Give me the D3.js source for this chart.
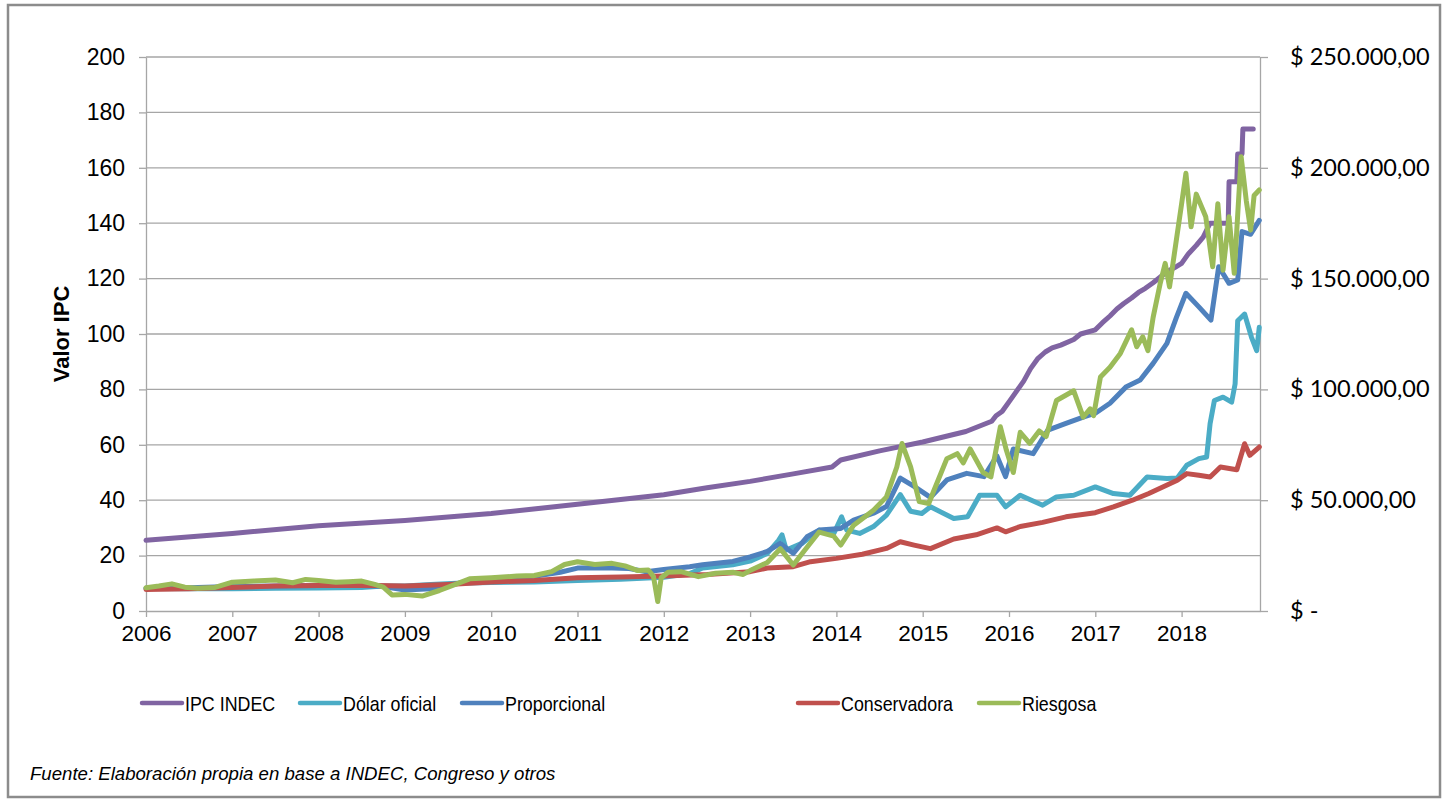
<!DOCTYPE html>
<html>
<head>
<meta charset="utf-8">
<script src="https://cdn.jsdelivr.net/npm/d3@7"></script>
<style>
  body { margin: 0; background: #fff; }
  svg { display: block; }
  .grid line { stroke: #a6a6a6; stroke-width: 1.3; }
  .axis path, .axis line { stroke: #a6a6a6; stroke-width: 1.3; }
  .axis text { fill: #000; }
</style>
</head>
<body>
<svg id="chart" width="1446" height="802"></svg>
<script>
// years on the bottom axis
let years = d3.range(2006, 2019);

// left axis ticks (Valor IPC) and right axis ticks (pesos)
let leftTicks = [0, 20, 40, 60, 80, 100, 120, 140, 160, 180, 200];
let rightTicks = [0, 50000, 100000, 150000, 200000, 250000];

// series: [decimal year, value]
let ipc = [
  [2006.0, 25.5], [2007.0, 28.0], [2008.0, 30.8], [2009.0, 32.7], [2010.0, 35.2],
  [2011.0, 38.5], [2012.0, 42.0], [2012.5, 44.5], [2013.0, 46.8], [2013.5, 49.5],
  [2013.95, 52.0], [2014.05, 54.5], [2014.5, 57.8], [2015.0, 61.0], [2015.5, 64.8],
  [2015.8, 68.5], [2015.85, 70.5], [2015.92, 72.0], [2016.0, 75.5], [2016.08, 79.0],
  [2016.17, 83.0], [2016.25, 87.5], [2016.33, 91.0], [2016.42, 93.5], [2016.5, 95.0],
  [2016.6, 96.0], [2016.75, 98.0], [2016.83, 100.0], [2017.0, 101.5], [2017.08, 104.0],
  [2017.17, 106.5], [2017.25, 109.0], [2017.33, 111.0], [2017.42, 113.0], [2017.5, 115.0],
  [2017.58, 116.5], [2017.67, 118.5], [2017.75, 120.5], [2017.83, 122.5], [2017.92, 124.0],
  [2018.0, 125.5], [2018.08, 129.0], [2018.17, 132.0], [2018.25, 135.0], [2018.33, 140.0],
  [2018.54, 140.0], [2018.55, 155.0], [2018.64, 155.0], [2018.65, 165.0], [2018.7, 165.0],
  [2018.71, 174.0], [2018.83, 174.0]
];

let dolar = [
  [2006.0, 8.1], [2006.5, 8.0], [2007.0, 8.0], [2007.5, 8.2], [2008.0, 8.3], [2008.5, 8.5],
  [2008.75, 9.0], [2009.0, 9.0], [2009.3, 9.6], [2009.6, 10.0], [2010.0, 10.3], [2010.5, 10.5],
  [2011.0, 11.0], [2011.5, 11.5], [2012.0, 12.2], [2012.3, 13.5], [2012.45, 15.5], [2012.8, 16.7],
  [2013.0, 18.0], [2013.2, 20.8], [2013.33, 25.5], [2013.37, 27.5], [2013.42, 22.0], [2013.6, 24.4],
  [2013.8, 29.2], [2013.97, 28.0], [2014.06, 34.0], [2014.12, 29.2], [2014.27, 28.0], [2014.43, 30.5],
  [2014.58, 34.6], [2014.74, 42.0], [2014.86, 36.0], [2014.99, 35.2], [2015.09, 37.6], [2015.36, 33.4],
  [2015.52, 34.0], [2015.66, 41.8], [2015.86, 41.8], [2015.96, 37.6], [2016.13, 41.8], [2016.39, 38.2],
  [2016.55, 41.2], [2016.75, 41.8], [2017.0, 44.8], [2017.21, 42.4], [2017.4, 41.8], [2017.6, 48.4],
  [2017.83, 47.8], [2017.95, 48.0], [2018.06, 52.6], [2018.2, 55.0], [2018.29, 55.6], [2018.33, 67.6],
  [2018.38, 76.0], [2018.48, 77.2], [2018.58, 75.4], [2018.62, 82.0], [2018.65, 104.8], [2018.73, 107.2],
  [2018.81, 98.8], [2018.87, 94.0], [2018.9, 102.4]
];

let proporcional = [
  [2006.0, 8.3], [2006.5, 8.4], [2007.0, 8.8], [2007.5, 9.0], [2008.0, 9.2], [2008.5, 9.2],
  [2008.75, 8.8], [2009.0, 7.6], [2009.3, 8.0], [2009.7, 10.5], [2010.0, 11.5], [2010.5, 12.5],
  [2010.8, 14.0], [2011.0, 15.5], [2011.3, 15.6], [2011.6, 15.3], [2011.8, 14.2], [2012.0, 15.0],
  [2012.3, 16.0], [2012.45, 16.7], [2012.8, 17.9], [2013.0, 19.5], [2013.2, 21.5], [2013.35, 24.4],
  [2013.5, 20.8], [2013.66, 26.8], [2013.8, 29.2], [2014.05, 29.8], [2014.2, 32.8], [2014.43, 35.3],
  [2014.58, 37.7], [2014.74, 48.0], [2014.9, 45.0], [2015.09, 41.0], [2015.28, 47.3], [2015.51, 49.7],
  [2015.71, 48.5], [2015.86, 56.0], [2015.96, 48.5], [2016.05, 58.5], [2016.28, 56.8], [2016.45, 65.3],
  [2016.66, 67.7], [2016.86, 70.0], [2017.0, 71.4], [2017.17, 75.0], [2017.36, 81.0], [2017.52, 83.4],
  [2017.67, 89.4], [2017.83, 96.6], [2017.94, 106.0], [2018.05, 114.7], [2018.2, 109.8], [2018.34, 105.0],
  [2018.43, 124.3], [2018.55, 118.3], [2018.65, 119.5], [2018.7, 137.0], [2018.8, 136.0], [2018.9, 141.0]
];

let conservadora = [
  [2006.0, 7.8], [2006.5, 8.0], [2007.0, 8.5], [2007.5, 9.0], [2008.0, 9.2], [2008.5, 9.3],
  [2009.0, 9.0], [2009.5, 9.6], [2010.0, 10.5], [2010.5, 11.0], [2011.0, 12.0], [2011.5, 12.3],
  [2012.0, 12.6], [2012.5, 13.2], [2013.0, 14.2], [2013.2, 15.5], [2013.5, 16.0], [2013.7, 17.8],
  [2014.0, 19.0], [2014.3, 20.5], [2014.58, 22.6], [2014.74, 25.0], [2014.9, 23.8], [2015.09, 22.5],
  [2015.36, 26.0], [2015.62, 27.5], [2015.86, 30.0], [2015.96, 28.6], [2016.13, 30.5], [2016.39, 32.0],
  [2016.66, 34.0], [2017.0, 35.5], [2017.21, 37.6], [2017.43, 40.0], [2017.62, 42.4], [2017.95, 47.2],
  [2018.06, 49.6], [2018.2, 49.0], [2018.33, 48.4], [2018.45, 52.0], [2018.64, 51.0], [2018.73, 60.4],
  [2018.79, 56.2], [2018.9, 59.2]
];

let riesgosa = [
  [2006.0, 8.4], [2006.15, 9.0], [2006.3, 9.8], [2006.45, 8.6], [2006.6, 8.2], [2006.8, 8.5],
  [2007.0, 10.4], [2007.25, 10.8], [2007.5, 11.2], [2007.7, 10.2], [2007.85, 11.4], [2008.0, 11.0],
  [2008.2, 10.4], [2008.35, 10.6], [2008.5, 10.8], [2008.65, 9.6], [2008.75, 8.6], [2008.85, 5.8],
  [2009.0, 6.0], [2009.2, 5.4], [2009.4, 7.4], [2009.6, 9.8], [2009.75, 11.6], [2010.0, 12.0],
  [2010.3, 12.6], [2010.5, 12.8], [2010.7, 14.2], [2010.85, 16.8], [2011.0, 17.8], [2011.2, 16.8],
  [2011.4, 17.2], [2011.55, 16.3], [2011.7, 14.6], [2011.82, 14.8], [2011.88, 12.5], [2011.93, 3.4],
  [2011.97, 12.0], [2012.05, 14.0], [2012.2, 14.2], [2012.4, 12.4], [2012.6, 13.6], [2012.8, 14.0],
  [2012.92, 13.2], [2013.0, 14.6], [2013.2, 17.5], [2013.35, 22.5], [2013.5, 16.6], [2013.66, 23.0],
  [2013.8, 28.5], [2013.97, 27.0], [2014.05, 23.8], [2014.2, 31.0], [2014.43, 36.4], [2014.58, 41.2],
  [2014.7, 52.0], [2014.76, 60.5], [2014.86, 52.0], [2014.96, 39.5], [2015.07, 38.8], [2015.13, 43.5],
  [2015.28, 55.0], [2015.4, 56.8], [2015.47, 53.5], [2015.55, 58.5], [2015.7, 50.0], [2015.79, 48.4],
  [2015.9, 66.5], [2015.97, 58.0], [2016.05, 50.0], [2016.13, 64.5], [2016.24, 60.5], [2016.35, 65.0],
  [2016.43, 63.0], [2016.55, 76.0], [2016.75, 79.5], [2016.86, 70.0], [2016.94, 73.0], [2016.98, 70.5],
  [2017.06, 84.5], [2017.17, 88.0], [2017.29, 93.0], [2017.42, 101.5], [2017.48, 95.4], [2017.55, 99.0],
  [2017.61, 94.0], [2017.67, 106.0], [2017.75, 118.0], [2017.81, 125.5], [2017.86, 117.0], [2017.9, 125.5],
  [2018.0, 147.0], [2018.05, 158.0], [2018.11, 138.7], [2018.17, 150.5], [2018.28, 142.3], [2018.36, 124.3],
  [2018.42, 147.0], [2018.48, 123.0], [2018.55, 142.3], [2018.61, 121.9], [2018.69, 164.0], [2018.75, 148.0],
  [2018.8, 137.5], [2018.84, 150.0], [2018.9, 152.0]
];

let seriesNames = ["IPC INDEC", "Dólar oficial", "Proporcional", "Conservadora", "Riesgosa"];
let seriesData = [ipc, dolar, proporcional, conservadora, riesgosa];
let seriesColors = ["#8064a2", "#4bacc6", "#4f81bd", "#c0504d", "#9bbb59"];

let svg = d3.select("#chart");

// outer frame
svg.append("rect")
  .attr("x", 8).attr("y", 5)
  .attr("width", 1432).attr("height", 792)
  .attr("fill", "none")
  .attr("stroke", "#8c8c8c")
  .attr("stroke-width", 2.5);

// plot area
let x0 = 146, x1 = 1260, y0 = 611, y1 = 57;
let x = d3.scaleLinear().domain([2006, 2006 + (x1 - x0) / 86.3]).range([x0, x1]);
let y = d3.scaleLinear().domain([0, 200]).range([y0, y1]);
let yRight = d3.scaleLinear().domain([0, 250000]).range([y0, y1]);

// horizontal gridlines
svg.append("g")
  .attr("class", "grid")
  .selectAll("line")
  .data(leftTicks.filter(d => d > 0))
  .enter()
  .append("line")
  .attr("x1", x0).attr("x2", x1)
  .attr("y1", d => y(d)).attr("y2", d => y(d));

// left axis
let leftAxis = svg.append("g")
  .attr("class", "axis")
  .attr("transform", `translate(${x0},0)`)
  .call(d3.axisLeft(y).tickValues(leftTicks).tickSize(7).tickSizeOuter(0).tickPadding(14));
leftAxis.selectAll("text")
  .style("font-family", "Liberation Sans, Arial, sans-serif")
  .style("font-size", "23px");

// right axis
let pesos = d3.formatLocale({ decimal: ",", thousands: ".", grouping: [3], currency: ["$", ""] });
let fmtPesos = pesos.format(",.2f");
let rightAxis = svg.append("g")
  .attr("class", "axis")
  .attr("transform", `translate(${x1},0)`)
  .call(d3.axisRight(yRight).tickValues(rightTicks).tickSize(8).tickSizeOuter(0).tickPadding(22)
    .tickFormat(d => d === 0 ? "$ -" : "$ " + fmtPesos(d)));
rightAxis.selectAll("text")
  .style("font-family", "Lato, 'Open Sans', sans-serif")
  .style("font-size", "23.5px");

// bottom axis
let bottomAxis = svg.append("g")
  .attr("class", "axis")
  .attr("transform", `translate(0,${y0})`)
  .call(d3.axisBottom(x).tickValues(years).tickFormat(d3.format("d")).tickSize(6).tickSizeOuter(0).tickPadding(8));
bottomAxis.selectAll("text")
  .style("font-family", "Liberation Sans, Arial, sans-serif")
  .style("font-size", "22.5px");

// axis title
svg.append("text")
  .attr("transform", `translate(69,${(y0 + y1) / 2}) rotate(-90)`)
  .attr("text-anchor", "middle")
  .style("font-family", "Liberation Sans, Arial, sans-serif")
  .style("font-size", "22px")
  .style("font-weight", "bold")
  .text("Valor IPC");

// lines
let line = d3.line()
  .x(d => x(d[0]))
  .y(d => y(d[1]));

svg.append("g")
  .selectAll("path")
  .data(seriesData)
  .enter()
  .append("path")
  .attr("d", line)
  .attr("fill", "none")
  .attr("stroke", (d, i) => seriesColors[i])
  .attr("stroke-width", 5)
  .attr("stroke-linejoin", "round")
  .attr("stroke-linecap", "round");

// legend
let legendX = [142, 300, 462, 798, 979];
let legend = svg.append("g")
  .selectAll("g")
  .data(seriesNames)
  .enter()
  .append("g")
  .attr("transform", (d, i) => `translate(${legendX[i]},703)`);

legend.append("line")
  .attr("x1", 0).attr("x2", 40)
  .attr("stroke", (d, i) => seriesColors[i])
  .attr("stroke-width", 4.5)
  .attr("stroke-linecap", "round");

// the original legend font is a narrow Arial, squeeze it horizontally
legend.append("text")
  .attr("transform", "translate(43,8) scale(0.85,1)")
  .style("font-family", "'Liberation Sans', Arial, sans-serif")
  .style("font-size", "21px")
  .text(d => d);

// source note
svg.append("text")
  .attr("transform", "translate(30,780) scale(0.98,1)")
  .style("font-family", "'Liberation Sans', Arial, sans-serif")
  .style("font-size", "19px")
  .style("font-style", "italic")
  .text("Fuente: Elaboración propia en base a INDEC, Congreso y otros");
</script>
</body>
</html>
